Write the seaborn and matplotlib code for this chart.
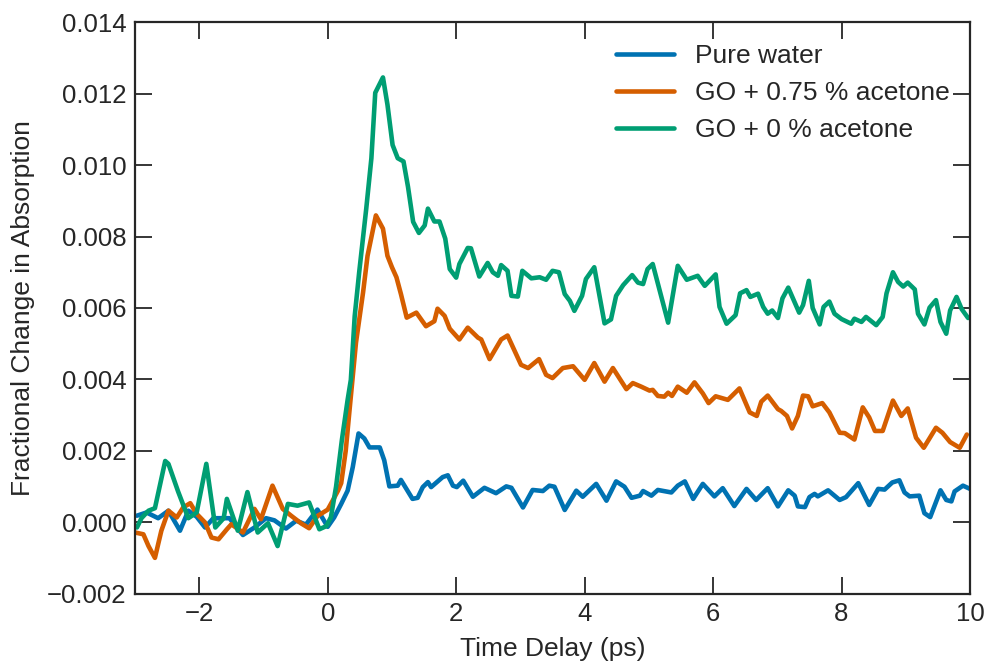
import matplotlib
matplotlib.use("Agg")
import matplotlib.pyplot as plt
import matplotlib.ticker as mticker
import seaborn as sns
import pandas as pd

# ---- data (values in units of 1e-3) ----
water_t = [-2.97, -2.82, -2.64, -2.48, -2.30, -2.17, -2.04, -1.91, -1.78, -1.53, -1.32, -1.14,
           -0.96, -0.83, -0.65, -0.49, -0.34, -0.16, 0.0, 0.10, 0.21, 0.31, 0.39, 0.48, 0.57,
           0.65, 0.81, 0.88, 0.96, 1.09, 1.14, 1.32, 1.40, 1.48, 1.56, 1.61, 1.79, 1.87, 1.95,
           2.01, 2.11, 2.26, 2.44, 2.62, 2.78, 2.86, 3.04, 3.19, 3.35, 3.45, 3.53, 3.69, 3.87,
           3.97, 4.18, 4.34, 4.49, 4.62, 4.73, 4.86, 4.91, 5.04, 5.14, 5.35, 5.45, 5.56, 5.69,
           5.84, 6.02, 6.15, 6.33, 6.52, 6.67, 6.85, 7.01, 7.17, 7.27, 7.32, 7.43, 7.50, 7.58,
           7.63, 7.79, 7.97, 8.07, 8.26, 8.43, 8.57, 8.67, 8.79, 8.90, 8.98, 9.06, 9.21, 9.29,
           9.38, 9.54, 9.63, 9.71, 9.76, 9.89, 10.0]
water_v = [0.19, 0.28, 0.12, 0.33, -0.23, 0.33, 0.16, -0.14, 0.12, 0.12, -0.35, -0.14,
           0.12, 0.06, -0.17, 0.05, -0.06, 0.36, -0.12, 0.14, 0.52, 0.89, 1.55, 2.49, 2.35,
           2.10, 2.10, 1.74, 1.01, 1.03, 1.19, 0.66, 0.69, 0.99, 1.13, 0.99, 1.27, 1.32, 1.03,
           0.99, 1.17, 0.72, 0.97, 0.82, 1.01, 0.97, 0.42, 0.91, 0.88, 1.03, 1.00, 0.35, 0.89,
           0.72, 1.08, 0.61, 1.15, 1.00, 0.69, 0.75, 0.88, 0.75, 0.91, 0.84, 1.03, 1.15, 0.66,
           1.08, 0.73, 0.96, 0.46, 0.94, 0.63, 0.96, 0.45, 0.90, 0.75, 0.45, 0.43, 0.71, 0.80,
           0.73, 0.90, 0.63, 0.71, 1.10, 0.49, 0.94, 0.92, 1.12, 1.18, 0.84, 0.73, 0.75, 0.26,
           0.15, 0.90, 0.63, 0.59, 0.87, 1.03, 0.94]

ac075_t = [-3.0, -2.87, -2.79, -2.69, -2.59, -2.48, -2.35, -2.25, -2.14, -2.04, -1.91, -1.81,
           -1.70, -1.57, -1.50, -1.32, -1.14, -1.04, -0.86, -0.70, -0.57, -0.41, -0.29, -0.16,
           0.0, 0.08, 0.16, 0.21, 0.28, 0.34, 0.44, 0.55, 0.62, 0.75, 0.86, 0.93, 1.0, 1.07,
           1.14, 1.23, 1.38, 1.53, 1.66, 1.71, 1.82, 1.90, 2.05, 2.18, 2.34, 2.39, 2.52, 2.70,
           2.80, 3.01, 3.12, 3.29, 3.40, 3.50, 3.66, 3.82, 4.0, 4.15, 4.31, 4.44, 4.65, 4.75,
           4.88, 5.01, 5.06, 5.14, 5.24, 5.30, 5.36, 5.45, 5.59, 5.71, 5.84, 5.93, 6.04, 6.23,
           6.41, 6.57, 6.68, 6.75, 6.85, 7.01, 7.06, 7.15, 7.23, 7.32, 7.40, 7.48, 7.55, 7.70,
           7.81, 7.97, 8.05, 8.20, 8.33, 8.43, 8.52, 8.64, 8.80, 8.93, 9.03, 9.16, 9.28, 9.47,
           9.57, 9.69, 9.84, 9.95]
ac075_v = [-0.28, -0.33, -0.66, -0.99, -0.23, 0.33, 0.14, 0.42, 0.54, 0.24, 0.0, -0.42,
           -0.47, -0.19, -0.05, -0.28, 0.38, 0.09, 1.03, 0.38, 0.19, -0.03, -0.16, 0.18,
           0.36, 0.62, 0.89, 1.10, 2.00, 3.15, 5.03, 6.43, 7.46, 8.59, 8.22, 7.46, 7.14, 6.86,
           6.39, 5.73, 5.87, 5.49, 5.63, 5.98, 5.78, 5.42, 5.12, 5.45, 5.17, 5.12, 4.57, 5.12,
           5.23, 4.41, 4.32, 4.57, 4.13, 4.04, 4.32, 4.37, 3.99, 4.46, 3.94, 4.32, 3.73, 3.90,
           3.80, 3.69, 3.71, 3.54, 3.52, 3.63, 3.54, 3.80, 3.63, 3.92, 3.61, 3.34, 3.53, 3.43,
           3.75, 3.08, 2.98, 3.38, 3.55, 3.17, 3.12, 2.98, 2.63, 2.98, 3.55, 3.53, 3.25, 3.34,
           3.08, 2.51, 2.50, 2.32, 3.22, 2.94, 2.56, 2.56, 3.41, 2.98, 3.19, 2.37, 2.09, 2.65,
           2.51, 2.25, 2.09, 2.46]

ac0_t = [-2.97, -2.90, -2.79, -2.69, -2.53, -2.48, -2.33, -2.17, -2.04, -1.89, -1.75, -1.62,
         -1.57, -1.40, -1.25, -1.09, -0.93, -0.78, -0.62, -0.47, -0.29, -0.13, -0.02, 0.05,
         0.13, 0.22, 0.31, 0.36, 0.42, 0.49, 0.60, 0.68, 0.74, 0.86, 0.93, 1.01, 1.09, 1.18,
         1.25, 1.33, 1.42, 1.51, 1.56, 1.66, 1.74, 1.83, 1.90, 2.0, 2.05, 2.18, 2.23, 2.36,
         2.49, 2.57, 2.65, 2.70, 2.80, 2.86, 2.96, 3.03, 3.17, 3.30, 3.40, 3.50, 3.60, 3.69,
         3.77, 3.84, 3.96, 4.02, 4.15, 4.31, 4.41, 4.49, 4.60, 4.74, 4.83, 4.91, 4.98, 5.06,
         5.30, 5.45, 5.59, 5.76, 5.87, 6.04, 6.10, 6.21, 6.35, 6.42, 6.52, 6.58, 6.70, 6.78,
         6.85, 6.92, 7.01, 7.08, 7.17, 7.34, 7.40, 7.49, 7.55, 7.66, 7.72, 7.81, 7.89, 8.0,
         8.15, 8.20, 8.31, 8.38, 8.54, 8.64, 8.70, 8.80, 8.88, 8.96, 9.03, 9.14, 9.19, 9.29,
         9.37, 9.47, 9.54, 9.63, 9.69, 9.79, 9.87, 9.97]
ac0_v = [-0.14, 0.12, 0.33, 0.40, 1.72, 1.64, 0.87, 0.12, 0.28, 1.64, -0.14, 0.12,
         0.66, -0.23, 0.85, -0.28, -0.02, -0.66, 0.52, 0.47, 0.56, -0.19, -0.10, 0.15,
         1.00, 2.30, 3.43, 3.99, 5.77, 7.00, 8.78, 10.19, 12.02, 12.45, 11.69, 10.56, 10.19, 10.10,
         9.39, 8.41, 8.10, 8.31, 8.78, 8.42, 8.42, 7.94, 7.09, 6.85, 7.23, 7.68, 7.67, 6.88,
         7.26, 7.00, 6.90, 7.20, 7.04, 6.34, 6.32, 7.04, 6.83, 6.86, 6.79, 7.04, 7.00, 6.39,
         6.20, 5.92, 6.34, 6.81, 7.14, 5.57, 5.68, 6.34, 6.64, 6.92, 6.71, 6.67, 7.09, 7.23,
         5.59, 7.18, 6.79, 6.90, 6.62, 6.94, 6.03, 5.56, 5.80, 6.41, 6.50, 6.31, 6.40, 6.03,
         5.84, 5.93, 5.72, 6.27, 6.57, 5.87, 6.08, 6.76, 6.00, 5.54, 6.03, 6.18, 5.84, 5.69,
         5.56, 5.70, 5.61, 5.75, 5.52, 5.75, 6.41, 7.00, 6.73, 6.60, 6.71, 6.52, 5.84, 5.54,
         6.01, 6.22, 5.61, 5.28, 5.93, 6.31, 5.97, 5.72]

labels = ["Pure water", "GO + 0.75 % acetone", "GO + 0 % acetone"]
colors = ["#0072B2", "#D55E00", "#009E73"]
x_ticks = [-2, 0, 2, 4, 6, 8, 10]
y_ticks = [-0.002, 0.000, 0.002, 0.004, 0.006, 0.008, 0.010, 0.012, 0.014]

series = [(water_t, water_v), (ac075_t, ac075_v), (ac0_t, ac0_v)]
frames = []
for lab, (t, v) in zip(labels, series):
    frames.append(pd.DataFrame({"t": t, "v": [x * 1e-3 for x in v], "sample": lab}))
df = pd.concat(frames, ignore_index=True)

# ---- style ----
sns.set_theme(style="ticks")
dark = "#262626"
plt.rcParams.update({
    "font.family": ["Liberation Sans", "DejaVu Sans"],
    "xtick.direction": "in",
    "ytick.direction": "in",
    "xtick.top": True,
    "ytick.right": True,
    "axes.edgecolor": dark,
    "xtick.color": dark,
    "ytick.color": dark,
    "text.color": dark,
    "axes.labelcolor": dark,
})

fig = plt.figure(figsize=(9.87, 6.63), dpi=100)
ax = fig.add_axes([0.1368, 0.1041, 0.8460, 0.8627])

sns.lineplot(data=df, x="t", y="v", hue="sample", hue_order=labels,
             palette=dict(zip(labels, colors)), estimator=None, sort=False,
             linewidth=3.3, ax=ax)

ax.set_xlim(-3, 10)
ax.set_ylim(-0.002, 0.014)
ax.set_xticks(x_ticks)
ax.set_yticks(y_ticks)
ax.yaxis.set_major_formatter(mticker.FuncFormatter(
    lambda v, p: f"{v:.3f}".replace("-", "\u2212")))
ax.xaxis.set_major_formatter(mticker.FuncFormatter(
    lambda v, p: f"{v:.0f}".replace("-", "\u2212")))

for s in ax.spines.values():
    s.set_visible(True)
    s.set_linewidth(1.6)
    s.set_color(dark)
ax.tick_params(which="major", length=12, width=1.3, labelsize=18.5, pad=6,
               top=True, right=True)

ax.set_xlabel("Time Delay (ps)", fontsize=19, labelpad=8)
ax.set_ylabel("Fractional Change in Absorption", fontsize=19, labelpad=9)

leg = ax.legend(loc="upper left", bbox_to_anchor=(0.576, 0.962), frameon=False,
                fontsize=19, handlelength=2.2, handletextpad=0.8, labelspacing=0.5,
                borderaxespad=0, borderpad=0)
for line in leg.get_lines():
    line.set_linewidth(3.3)

fig.savefig("out.png", dpi=100)
